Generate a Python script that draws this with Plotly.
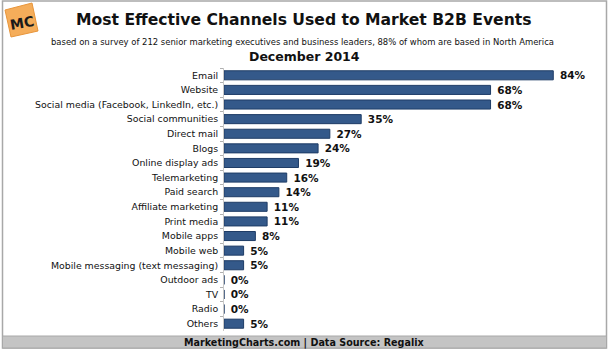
import plotly.graph_objects as go

categories = ["Email", "Website", "Social media (Facebook, LinkedIn, etc.)",
              "Social communities", "Direct mail", "Blogs", "Online display ads",
              "Telemarketing", "Paid search", "Affiliate marketing", "Print media",
              "Mobile apps", "Mobile web", "Mobile messaging (text messaging)",
              "Outdoor ads", "TV", "Radio", "Others"]
values = [84, 68, 68, 35, 27, 24, 19, 16, 14, 11, 11, 8, 5, 5, 0, 0, 0, 5]
value_labels = [f"{v}%" for v in values]

title = "Most Effective Channels Used to Market B2B Events"
subtitle = "based on a survey of 212 senior marketing executives and business leaders, 88% of whom are based in North America"
date_label = "December 2014"
footer = "MarketingCharts.com | Data Source: Regalix"

W, H = 609, 351
L, R, T, B = 224, 9, 68, 20
PW, PH = W - L - R, H - T - B
XMAX = PW / 3.92

def px(x):
    return (x - L) / PW

def py(y):
    return (H - B - y) / PH

FONT = "DejaVu Sans, sans-serif"

fig = go.Figure(go.Bar(
    y=categories, x=values, orientation="h",
    marker=dict(color="#34598a", line=dict(color="#1e3c66", width=1)),
    text=value_labels, textposition="outside", cliponaxis=False,
    constraintext="none",
    textfont=dict(family=FONT, size=10.5, color="#111111"),
    texttemplate="<b> %{text}</b>",
))

fig.update_layout(
    width=W, height=H, margin=dict(l=L, r=R, t=T, b=B),
    paper_bgcolor="white", plot_bgcolor="white",
    bargap=0.38, showlegend=False,
    xaxis=dict(range=[0, XMAX], visible=False, fixedrange=True),
    yaxis=dict(autorange="reversed", showline=True, linecolor="#c8c8c8", linewidth=1,
               ticks="outside", tickson="boundaries", ticklen=3, tickcolor="#b0b0b0",
               tickfont=dict(family=FONT, size=9.4, color="#111111"),
               showgrid=False, ticksuffix=" "),
    font=dict(family=FONT),
)

shapes = []
# outer frame
shapes.append(dict(type="rect", xref="paper", yref="paper",
                   x0=px(2.5), x1=px(606.5), y0=py(348), y1=py(1),
                   line=dict(color="#a8a8a8", width=1.5), fillcolor="rgba(0,0,0,0)", layer="below"))
# footer band
shapes.append(dict(type="rect", xref="paper", yref="paper",
                   x0=px(2.5), x1=px(606.5), y0=py(348), y1=py(336),
                   line=dict(color="#a8a8a8", width=1), fillcolor="#c4c4c4", layer="below"))
# logo
shapes.append(dict(type="path", xref="paper", yref="paper",
                   path=f"M {px(5)},{py(10)} L {px(32)},{py(3)} L {px(38)},{py(31)} L {px(11)},{py(37)} Z",
                   line=dict(color="#e8953a", width=1), fillcolor="#f5ad5a", layer="below"))
fig.update_layout(shapes=shapes)

ann = [
    dict(text=f"<b>{title}</b>", x=px(304), y=py(20), size=15.6),
    dict(text=subtitle, x=px(302), y=py(42), size=8.45),
    dict(text=f"<b>{date_label}</b>", x=px(304), y=py(57), size=12.5),
    dict(text=f"<b>{footer}</b>", x=px(304), y=py(342.5), size=9.6),
    dict(text="<b>MC</b>", x=px(21.5), y=py(23), size=14),
]
fig.update_layout(annotations=[
    dict(text=a["text"], x=a["x"], y=a["y"], xref="paper", yref="paper",
         xanchor="center", yanchor="middle", showarrow=False,
         font=dict(family=FONT, size=a["size"], color="#111111"))
    for a in ann
])
fig.layout.annotations[-1].textangle = -10
fig.layout.annotations[-1].font.color = "#1a1a1a"

fig.write_html("out.html")
